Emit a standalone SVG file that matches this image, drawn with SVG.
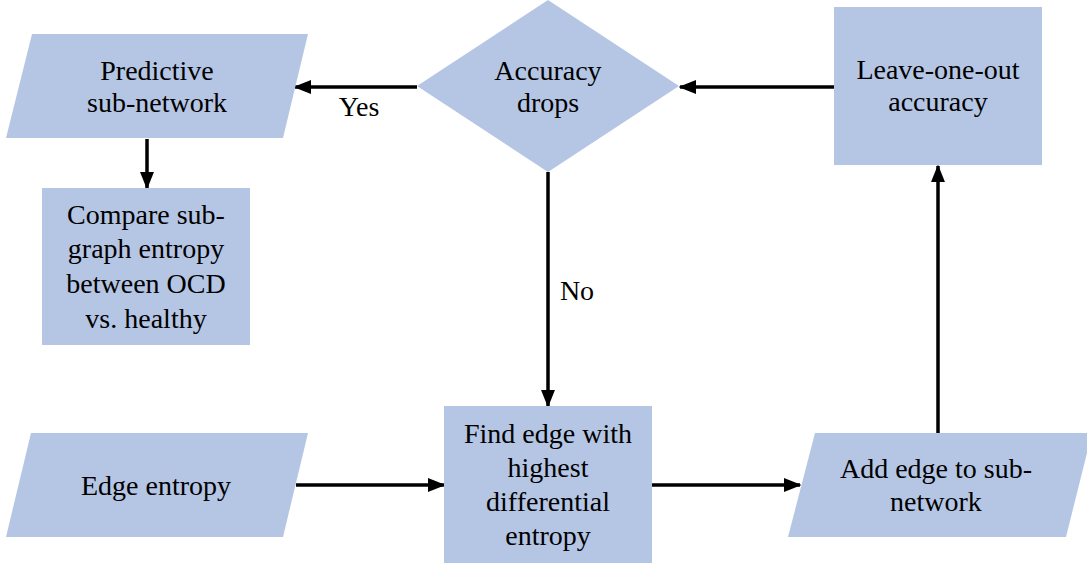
<svg xmlns="http://www.w3.org/2000/svg" width="1087" height="566" viewBox="0 0 1087 566">
  <style>
    .shape { fill: #B5C6E5; }
    .label { font-family: 'Liberation Serif', 'DejaVu Serif', serif; font-size: 28px; fill: #000; text-anchor: middle; }
    .edge { stroke: #000; stroke-width: 3.5; fill: none; marker-end: url(#arrow); }
  </style>
  <defs>
    <marker id="arrow" markerWidth="5" markerHeight="4" refX="4.6" refY="2" orient="auto" markerUnits="strokeWidth">
      <path d="M0,0 L5,2 L0,4 Z" fill="#000"/>
    </marker>
  </defs>
  <rect width="1087" height="566" fill="#fff"/>

  <!-- connectors -->
  <g id="connectors">
    <line class="edge" x1="417" y1="87" x2="295" y2="87"/>
    <line class="edge" x1="834" y1="87" x2="680" y2="87"/>
    <line class="edge" x1="147" y1="139" x2="147" y2="188"/>
    <line class="edge" x1="548" y1="172" x2="548" y2="406"/>
    <line class="edge" x1="296" y1="485" x2="444" y2="485"/>
    <line class="edge" x1="652" y1="485" x2="800" y2="485"/>
    <line class="edge" x1="938" y1="433" x2="938" y2="166"/>
    <text class="label" x="359" y="116" font-family="Liberation Serif">Yes</text>
    <text class="label" x="577" y="300" font-family="Liberation Serif">No</text>
  </g>

  <!-- nodes -->
  <g id="predictive">
    <polygon class="shape" points="32,34 308,34 283,138 6,138"/>
    <text class="label" x="157" y="80">Predictive</text>
    <text class="label" x="157" y="112">sub-network</text>
  </g>

  <g id="accuracy-drops">
    <polygon class="shape" points="548,0 679,86 548,172 417,86"/>
    <text class="label" x="548" y="80">Accuracy</text>
    <text class="label" x="548" y="112">drops</text>
  </g>

  <g id="leave-one-out">
    <rect class="shape" x="834" y="7" width="208" height="158"/>
    <text class="label" x="938" y="79">Leave-one-out</text>
    <text class="label" x="938" y="111">accuracy</text>
  </g>

  <g id="compare">
    <rect class="shape" x="42" y="188" width="208" height="157"/>
    <text class="label" x="146" y="224">Compare sub-</text>
    <text class="label" x="146" y="258">graph entropy</text>
    <text class="label" x="146" y="293">between OCD</text>
    <text class="label" x="146" y="328">vs. healthy</text>
  </g>

  <g id="edge-entropy">
    <polygon class="shape" points="31,433 308,433 283,537 6,537"/>
    <text class="label" x="156" y="495">Edge entropy</text>
  </g>

  <g id="find-edge">
    <rect class="shape" x="444" y="406" width="208" height="157"/>
    <text class="label" x="548" y="443">Find edge with</text>
    <text class="label" x="548" y="477">highest</text>
    <text class="label" x="548" y="511">differential</text>
    <text class="label" x="548" y="545">entropy</text>
  </g>

  <g id="add-edge">
    <polygon class="shape" points="815,433 1092,433 1066,537 788,537"/>
    <text class="label" x="936" y="478">Add edge to sub-</text>
    <text class="label" x="936" y="511">network</text>
  </g>
</svg>
